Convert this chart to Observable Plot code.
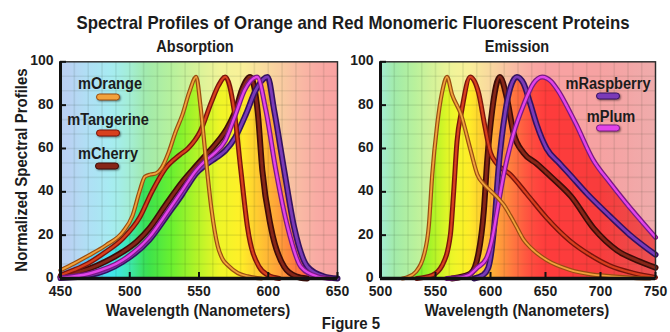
<!DOCTYPE html>
<html><head><meta charset="utf-8">
<script src="https://cdn.jsdelivr.net/npm/d3@7"></script>
<script src="https://cdn.jsdelivr.net/npm/@observablehq/plot@0.6"></script>
<style>
body{margin:0;background:#fff;}
#wrap{position:relative;width:670px;height:332px;overflow:hidden;font-family:"Liberation Sans",Arial,sans-serif;font-weight:bold;color:#1c1c1c;}
.t{position:absolute;white-space:nowrap;line-height:1;}
.sw{position:absolute;transform:translate(-50%,-50%);width:24px;height:7px;border-radius:4px;box-sizing:border-box;border:1.5px solid;box-shadow:1px 1px 2px rgba(0,0,0,.45);}
.p{position:absolute;top:0;}
</style></head><body><div id="wrap"></div>
<script>
// ---------- data ----------
const proteins = ["mOrange","mTangerine","mCherry","mRaspberry","mPlum"];
const yTicks = [0,20,40,60,80,100];
const absorptionXTicks = [450,500,550,600,650];
const emissionXTicks = [500,550,600,650,700,750];

// Absorption spectra [wavelength nm, normalized value]
const absOrange = [[450,3.8],[460,7],[470,10.5],[483,15.4],[495,21.5],[502,29],[507,40],[511,47],[515,48],[519,48.5],[523,51],[528,58],[533,67.5],[538,75.5],[543,86],[548,93],[551,80],[555,55],[559,32],[563.5,15],[567,9],[571,6],[578,2.5],[585,1],[595,0]];
const absTangerine = [[450,1.5],[460,4],[470,7],[482,12],[495,18.5],[507,28],[516,40],[526,51],[536,57],[542,60],[551,68],[559,81.5],[564,89],[569,93],[575.4,77.5],[580.2,50],[585,23.7],[593.4,5.4],[600,1.5],[608,0]];
const absCherry = [[450,0.8],[460,2.5],[471,4.6],[483,8],[495,12.3],[505,17],[514,23],[526,34],[538,44.6],[548,52],[555,57],[562,62],[570,69],[576.4,77.5],[581,87],[587,93],[592.3,77.5],[595.7,50],[601.9,23.7],[611.5,5.4],[620,1],[628,0]];
const absRaspberry = [[450,0.2],[471,1.5],[495,7.7],[514,17.7],[528,30],[538,39],[542,43],[548,48.5],[554,52],[563,56],[569,59],[576,65],[584,76],[591,87],[599.5,93],[604.3,77.5],[611.5,50],[618.7,23.7],[628.4,5.4],[640,1],[650,0]];
const absPlum = [[450,0.3],[471,2.3],[495,8.5],[514,19],[528,31.5],[538,40.8],[548,50],[555,54.6],[561,57.7],[569,63.7],[576,75],[583,87],[592,93],[598.3,77.5],[605.5,50],[614,23.7],[623.6,5.4],[635,1],[645,0]];

// Emission spectra [wavelength nm, normalized value]
const emOrange = [[520,0],[524,0.5],[532,3],[539.5,10.8],[544,24.6],[547,47.7],[551.5,70.8],[556,86],[560.5,93],[565,85],[573,76],[582,59],[588,48],[595,43],[600,40.5],[607,37],[612,34],[618,29],[624,23.5],[630,18],[636,14.5],[651,8.5],[672,4],[690,2],[710,1],[730,0.3],[745,0]];
const emTangerine = [[533,0],[547,1.5],[556,6],[563.5,20],[566.5,40],[569.5,63],[574,78],[581.5,93],[589,86],[595,70],[600,58],[605,53.5],[618,48],[633,39],[651,28],[672,17.5],[690,11],[708,6],[730,2.5],[750,0.5]];
const emCherry = [[565,0],[575,1],[582,2.3],[589,11.5],[594,31.5],[597,54.5],[601.5,77.5],[608.5,93],[615,83],[621,67],[630,58],[642,53],[657,46],[673,38],[694,23],[715,13],[735,8],[750,5]];
const emRaspberry = [[585,0],[593,1.5],[598,5],[603,22],[607.5,52],[613.5,77],[618,88],[624,93],[630,90],[636,81],[642,71],[651,60],[663,53],[672,48],[688,39],[708,29],[727,20],[750,11]];
const emPlum = [[560,0],[570,0.3],[580,1.5],[588,5],[596,9],[601,17],[606,31],[612,48],[621,67],[630,80],[639,90],[647,93],[655,91],[661,87],[673,76],[678,71],[693,55],[708,44.6],[723,35],[738,26],[750,19]];

// ---------- styling ----------
const lineStyles = {
  mOrange:    {outer:"#9a4e12", inner:"#f2a23c", w:4.2, iw:1.8},
  mTangerine: {outer:"#7a140c", inner:"#d8401e", w:5,   iw:2.2},
  mCherry:    {outer:"#3e0c08", inner:"#862618", w:6,   iw:2.8},
  mRaspberry: {outer:"#341260", inner:"#7a3ab8", w:6,   iw:2.8},
  mPlum:      {outer:"#7a1a84", inner:"#e244ea", w:5,   iw:2.4}
};
const spectrumStops = [[440,"#6f9cf0"],[455,"#70a8f4"],[470,"#58c8f8"],[488,"#40e6f0"],[500,"#3ee8b0"],[512,"#38e050"],[530,"#68f030"],[548,"#b0f428"],[565,"#eef628"],[580,"#fff028"],[592,"#ffcc30"],[605,"#ffa838"],[620,"#ff7a40"],[635,"#ff5040"],[650,"#ff3c3c"],[700,"#f83c3c"],[730,"#f04848"],[760,"#e85858"]];
const specScale = d3.scaleLinear().domain(spectrumStops.map(d=>d[0])).range(spectrumStops.map(d=>d[1])).interpolate(d3.interpolateRgb).clamp(true);
const pastel = c => d3.interpolateRgb(c, "#f4f2f2")(0.56);

const H = 332;
const STRETCH = 1.15;
const TICK_STRETCH = 1.1;
const wrap = document.getElementById("wrap");
const FONT = '"Liberation Sans",Arial,sans-serif';

function drawPanel({id, left, width, mL, mR, xDomain, xTicks, gridStep, series, order}) {
  const mT = 61.3, mB = H - 278;
  const fW = width - mL - mR, fH = H - mT - mB;
  const gx = d3.range(xDomain[0], xDomain[1] + 1e-6, gridStep);
  const gy = d3.range(0, 100 + 1e-6, 100/15);
  const acc = {x: d => d[0], y: d => d[1], curve: "monotone-x"};
  const ordered = order.map(n => series.find(s => s.name === n));
  const marks = [
    Plot.frame({fill: `url(#${id}-pastel)`}),
    ...series.map(s => Plot.areaY(s.data, {...acc, fill: `url(#${id}-vivid)`})),
    Plot.gridX(gx, {stroke: "#1a2a1a", strokeOpacity: 0.09, strokeWidth: 1.6}),
    Plot.gridY(gy, {stroke: "#1a2a1a", strokeOpacity: 0.09, strokeWidth: 1.6}),
    ...ordered.flatMap(s => { const st = lineStyles[s.name]; return [
      Plot.line(s.data, {...acc, stroke: st.outer, strokeWidth: st.w, strokeLinejoin: "round", strokeLinecap: "round"}),
      Plot.line(s.data, {...acc, stroke: st.inner, strokeWidth: st.iw, strokeLinejoin: "round", strokeLinecap: "round"})
    ];}),
    Plot.frame({stroke: "#2a2a2a", strokeWidth: 1.4}),
    Plot.ruleX([xDomain[0]], {stroke: "#111", strokeWidth: 3}),
    Plot.ruleY([0], {stroke: "#111", strokeWidth: 3.5}),
    Plot.tickY(yTicks, {y: d => d, insetRight: fW - 6, stroke: "#111", strokeWidth: 2}),
    Plot.tickX(xTicks, {x: d => d, insetTop: fH - 6, stroke: "#111", strokeWidth: 2}),
    Plot.axisY(yTicks, {tickSize: 0, tickPadding: 7, dy: -1.5, fontSize: 14, fill: "#1c1c1c", label: null}),
    Plot.axisX(xTicks, {tickSize: 0, tickPadding: 7, fontSize: 14, fill: "#1c1c1c", label: null})
  ];
  const svg = Plot.plot({
    width, height: H, marginLeft: mL, marginRight: mR, marginTop: mT, marginBottom: mB,
    x: {domain: xDomain}, y: {domain: [0, 100]},
    style: {fontFamily: FONT, fontWeight: "bold", fontSize: "14px", background: "transparent", overflow: "visible"},
    marks
  });
  // stretch tick labels vertically (condensed look)
  d3.select(svg).selectAll('g[aria-label$="tick label"] text').each(function() {
    const x = +this.getAttribute("x") || 0, y = +this.getAttribute("y") || 0;
    const t = this.getAttribute("transform") || "";
    this.setAttribute("transform", `${t} translate(${x},${y}) scale(1,${TICK_STRETCH}) translate(${-x},${-y})`);
  });
  const defs = d3.select(svg).insert("defs", ":first-child");
  for (const [suffix, f] of [["vivid", c => c], ["pastel", pastel]]) {
    const g = defs.append("linearGradient").attr("id", `${id}-${suffix}`)
      .attr("gradientUnits", "userSpaceOnUse")
      .attr("x1", mL).attr("x2", width - mR).attr("y1", 0).attr("y2", 0);
    const n = 40;
    for (let i = 0; i <= n; i++) {
      const w = xDomain[0] + (xDomain[1] - xDomain[0]) * i / n;
      g.append("stop").attr("offset", i / n).attr("stop-color", f(specScale(w)));
    }
  }
  svg.classList.add("p");
  svg.style.left = left + "px";
  wrap.appendChild(svg);
}

drawPanel({id: "abs", left: 0, width: 345, mL: 60, mR: 8, xDomain: [450, 650], xTicks: absorptionXTicks, gridStep: 10,
  order: ["mCherry","mRaspberry","mTangerine","mPlum","mOrange"],
  series: [{name:"mOrange",data:absOrange},{name:"mTangerine",data:absTangerine},{name:"mCherry",data:absCherry},{name:"mRaspberry",data:absRaspberry},{name:"mPlum",data:absPlum}]});
drawPanel({id: "em", left: 345, width: 325, mL: 35, mR: 15, xDomain: [500, 750], xTicks: emissionXTicks, gridStep: 12.5,
  order: ["mCherry","mTangerine","mRaspberry","mPlum","mOrange"],
  series: [{name:"mOrange",data:emOrange},{name:"mTangerine",data:emTangerine},{name:"mCherry",data:emCherry},{name:"mRaspberry",data:emRaspberry},{name:"mPlum",data:emPlum}]});

// ---------- text ----------
function label(text, x, y, size, rotate = false, stretch = STRETCH) {
  const d = document.createElement("div");
  d.className = "t"; d.textContent = text;
  d.style.left = x + "px"; d.style.top = y + "px"; d.style.fontSize = size + "px";
  d.style.transform = `translate(-50%,-50%)${rotate ? " rotate(-90deg)" : ""} scaleY(${stretch})`;
  wrap.appendChild(d);
}
label("Spectral Profiles of Orange and Red Monomeric Fluorescent Proteins", 353, 24, 16.8, false, 1.12);
label("Absorption", 195, 47, 14.5);
label("Emission", 517, 47, 14.5);
label("Wavelength (Nanometers)", 198, 309.5, 15);
label("Wavelength (Nanometers)", 517, 309.5, 15);
label("Figure 5", 351, 322.5, 15);
label("Normalized Spectral Profiles", 21, 170, 15, true);

// legends
const legendPos = {mOrange:[110,84,108,97], mTangerine:[108,120,108,133], mCherry:[108,154,107,166], mRaspberry:[608,84,608,96], mPlum:[611,117,608,128]};
for (const name of proteins) {
  const [tx, ty, sx, sy] = legendPos[name];
  label(name, tx, ty, 14.6);
  const s = document.createElement("div");
  s.className = "sw";
  s.style.left = sx + "px"; s.style.top = sy + "px";
  s.style.background = lineStyles[name].inner; s.style.borderColor = lineStyles[name].outer;
  wrap.appendChild(s);
}
</script></body></html>
